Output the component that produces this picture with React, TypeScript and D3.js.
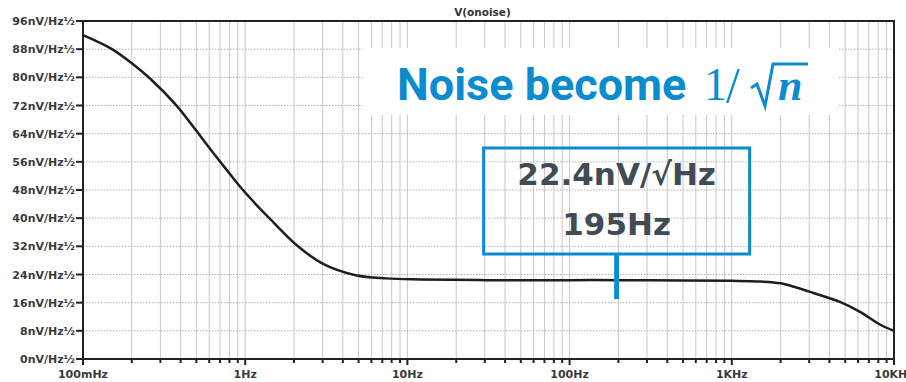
import React from "react";
import * as d3 from "d3";

const freqs = [0.1, 0.15, 0.2, 0.26, 0.375, 0.5, 0.6, 0.76, 0.96, 1.2, 1.41, 2.07, 3.0, 4.8, 7.4, 12, 30, 100, 195, 500, 1000, 1500, 2000, 2500, 3160, 4640, 6170, 8200, 10000];
const noise = [92.0, 88.1, 84.0, 79.6, 72.1, 64.8, 60.0, 54.0, 48.2, 43.3, 40.0, 32.4, 27.1, 23.8, 22.9, 22.6, 22.4, 22.4, 22.4, 22.3, 22.2, 22.0, 21.5, 20.3, 18.8, 16.2, 13.4, 9.8, 8.0];

const yTicks = [0, 8, 16, 24, 32, 40, 48, 56, 64, 72, 80, 88, 96];
const yTickLabels = yTicks.map((v) => `${v}nV/Hz½`);
const xDecades = [0.1, 1, 10, 100, 1000, 10000];
const xDecadeLabels = ["100mHz", "1Hz", "10Hz", "100Hz", "1KHz", "10KHz"];

const chartTitle = "V(onoise)";
const headline = "Noise become";
const markFreq = 195;
const markNoise = 22.4;
const markLines = ["22.4nV/√Hz", "195Hz"];

const W = 906;
const H = 382;
const L = 83, R = 894, T = 21, B = 359;
const BLUE = "#0b8ccf";
const FONT = "'DejaVu Sans', sans-serif";

export default function App() {
  const x = d3.scaleLog().domain([0.1, 10000]).range([L, R]);
  const y = d3.scaleLinear().domain([0, 96]).range([B, T]);

  const minor: number[] = [];
  for (const d of xDecades.slice(0, -1)) {
    for (let k = 1; k <= 9; k++) minor.push(k * d);
  }
  minor.push(10000);

  const line = d3
    .line<number>()
    .x((_, i) => x(freqs[i]))
    .y((v) => y(v))
    .curve(d3.curveCatmullRom.alpha(0.5));

  const mx = x(markFreq);
  const my = y(markNoise);
  const boxW = 266, boxTop = 148, boxBot = 254;

  return (
    <svg width={W} height={H} style={{ position: "absolute", left: 0, top: 0, background: "#fff" }}>
      <rect x={0} y={0} width={W} height={H} fill="#fff" />
      {/* grid */}
      {minor.map((f, i) => (
        <line key={"v" + i} x1={x(f)} x2={x(f)} y1={T} y2={B} stroke="#c8c8c8" strokeWidth={1} />
      ))}
      {yTicks.map((v, i) => (
        <line key={"h" + i} x1={L} x2={R} y1={y(v)} y2={y(v)} stroke="#b0b0b0" strokeWidth={1} strokeDasharray="1.5,1.5" />
      ))}
      {/* frame */}
      <rect x={L} y={T} width={R - L} height={B - T} fill="none" stroke="#222" strokeWidth={2} />
      {/* y ticks & labels */}
      {yTicks.map((v, i) => (
        <g key={"yt" + i}>
          <line x1={L - 7} x2={L} y1={y(v)} y2={y(v)} stroke="#222" strokeWidth={2} />
          <text x={L - 8} y={y(v) + 4} textAnchor="end" fontFamily={FONT} fontWeight="bold" fontSize={11} fill="#3a3a3a">
            {yTickLabels[i]}
          </text>
        </g>
      ))}
      {/* x ticks */}
      {minor.map((f, i) => {
        const isDec = xDecades.includes(f);
        return (
          <line key={"xt" + i} x1={x(f)} x2={x(f)} y1={B} y2={B + (isDec ? 6 : 4)} stroke="#222" strokeWidth={2} />
        );
      })}
      {xDecades.map((f, i) => (
        <text key={"xl" + i} x={x(f)} y={378} textAnchor="middle" fontFamily={FONT} fontWeight="bold" fontSize={11} fill="#3a3a3a">
          {xDecadeLabels[i]}
        </text>
      ))}
      {/* title */}
      <text x={(L + R) / 2 - 6} y={16} textAnchor="middle" fontFamily={FONT} fontWeight="bold" fontSize={10.5} fill="#333">
        {chartTitle}
      </text>
      {/* curve */}
      <path d={line(noise) || ""} fill="none" stroke="#1e1e1e" strokeWidth={2.5} />
      {/* headline box */}
      <rect x={363} y={48} width={476} height={67} fill="#fff" />
      <text x={397} y={100} fontFamily="Roboto, sans-serif" fontWeight="bold" fontSize={45} fill={BLUE}>
        {headline}
      </text>
      <g fill={BLUE}>
        <text x={704} y={100} fontFamily="'Liberation Serif', serif" fontSize={46}>1</text>
        <text x={726} y={102} fontFamily="'Liberation Serif', serif" fontSize={50}>/</text>
        <path d="M751,88 L757,84 L765,106 L773,64 L808,64" fill="none" stroke={BLUE} strokeWidth={3} />
        <text x={778} y={100} fontFamily="'Liberation Serif', serif" fontStyle="italic" fontWeight="bold" fontSize={44}>n</text>
      </g>
      {/* annotation */}
      <rect x={mx - boxW / 2} y={boxTop} width={boxW} height={boxBot - boxTop} fill="none" stroke={BLUE} strokeWidth={3} />
      <rect x={mx - 2.5} y={boxBot} width={5} height={my + 19 - boxBot} fill={BLUE} />
      <text x={mx} y={185} textAnchor="middle" fontFamily={FONT} fontWeight="bold" fontSize={31} fill="#414b55">
        {markLines[0]}
      </text>
      <text x={mx} y={235} textAnchor="middle" fontFamily={FONT} fontWeight="bold" fontSize={31} fill="#414b55">
        {markLines[1]}
      </text>
    </svg>
  );
}
